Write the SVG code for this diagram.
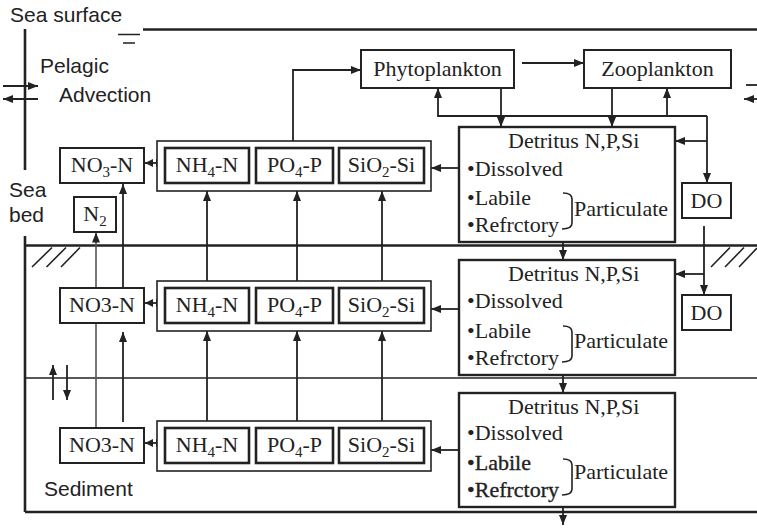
<svg xmlns="http://www.w3.org/2000/svg" width="757" height="528" viewBox="0 0 757 528">
<style>
.box{fill:#fff;stroke:#222;stroke-width:2}
.inner{fill:#fff;stroke:#222;stroke-width:2.6}
.outer{fill:#fff;stroke:#222;stroke-width:1.6}
.det{fill:#fff;stroke:#222;stroke-width:2.4}
.t{font-family:"Liberation Serif","Times New Roman",serif;font-size:22px;fill:#222}
.s{font-family:"Liberation Sans",Arial,sans-serif;font-size:21px;fill:#222}
.sub{font-size:15px}
.hv{stroke:#222;stroke-width:0.35}
.c{fill:none;stroke:#222;stroke-width:1.8}
.g{fill:none;stroke:#555;stroke-width:1.6}
.a{marker-end:url(#ah)}
.d{marker-start:url(#ah2);marker-end:url(#ah2)}
.frame{fill:none;stroke:#222;stroke-width:2.6}
.thin{fill:none;stroke:#222;stroke-width:1.6}
.br{fill:none;stroke:#222;stroke-width:1.6}
</style>
<defs>
<marker id="ah" viewBox="0 0 10 8" refX="10" refY="4" markerWidth="10" markerHeight="8" markerUnits="userSpaceOnUse" orient="auto"><path d="M0,0 L10,4 L0,8 z" fill="#222"/></marker>
<marker id="ah2" viewBox="0 0 8 8" refX="8" refY="4" markerWidth="8" markerHeight="8" markerUnits="userSpaceOnUse" orient="auto-start-reverse"><path d="M0,0 L8,4 L0,8 z" fill="#222"/></marker>
</defs>
<rect width="757" height="528" fill="#fff"/>

<g id="frame">
<path class="frame" d="M143,29.5 H757"/>
<path class="thin" d="M118,34.5 H140 M123,43 H135"/>
<path class="frame" d="M25,29 V170 M25,236 V512"/>
<path class="frame" d="M25,245.5 H757"/>
<path class="thin" d="M25,378 H757"/>
<path class="frame" d="M25,512 H757"/>
<path class="thin" d="M32,267 L52,247.5 M46.5,267 L66,247.5 M61,267 L80,247.5"/>
<path class="thin" d="M711,267 L730,247.5 M725,267 L744,247.5 M739,267 L757,248"/>
<text class="s" x="10" y="22">Sea surface</text>
<text class="s" x="40" y="72.5">Pelagic</text>
<text class="s" x="59" y="101.5">Advection</text>
<text class="s" x="9" y="197">Sea</text>
<text class="s" x="9" y="221.5">bed</text>
<text class="s" x="44" y="496">Sediment</text>
</g>

<g id="connectors">
<path class="c a" d="M3,86 H38"/>
<path class="c a" d="M38,99 H3"/>
<path class="c" d="M746,85 H757"/>
<path class="c a" d="M757,99 H744"/>
<path class="c a" d="M293,148 V70 H361"/>
<path class="c a" d="M522,63 H584"/>
<path class="c a" d="M501,88 V127"/>
<path class="c a" d="M612,88 V127"/>
<path class="c a" d="M707,116 H438 V88"/>
<path class="c a" d="M667,116 V88"/>
<path class="c a" d="M707,116 V183"/>
<path class="c a" d="M707,141 H675"/>
<path class="c a" d="M459,168 H431"/>
<path class="c d" d="M145,163 H164"/>
<path class="c a" d="M207,281 V191"/>
<path class="c a" d="M297,281 V191"/>
<path class="c a" d="M382,281 V191"/>
<path class="c a" d="M123,288 V184"/>
<path class="g a" d="M96,288 V232.5"/>
<path class="c a" d="M563,242 V260"/>
<path class="c a" d="M704,226 V295"/>
<path class="c a" d="M704,274 H675"/>
<path class="c a" d="M459,309 H431"/>
<path class="c d" d="M145,303 H164"/>
<path class="c a" d="M207,421 V331"/>
<path class="c a" d="M297,421 V331"/>
<path class="c a" d="M382,421 V331"/>
<path class="c a" d="M123,422 V332"/>
<path class="g" d="M96,428 V323"/>
<path class="c a" d="M563,375 V393"/>
<path class="c a" d="M459,450 H431"/>
<path class="c d" d="M145,443 H164"/>
<path class="c a" d="M563,507 V525"/>
<path class="c a" d="M53,400 V365"/>
<path class="c a" d="M67,365 V400"/>
</g>

<g id="phytoplankton">
<rect class="box" x="361" y="50" width="153" height="38"/>
<text class="t" x="437.5" y="76" text-anchor="middle">Phytoplankton</text>
</g>
<g id="zooplankton">
<rect class="box" x="584" y="50" width="147" height="38"/>
<text class="t" x="657.5" y="76" text-anchor="middle">Zooplankton</text>
</g>

<g id="nutrients-pelagic">
<rect class="outer" x="157" y="141" width="274" height="50"/>
<rect class="inner" x="165" y="148" width="84" height="35"/>
<rect class="inner" x="256" y="148" width="77" height="35"/>
<rect class="inner" x="339" y="148" width="85" height="35"/>
<text class="t" x="207" y="172" text-anchor="middle">NH<tspan class="sub" dy="5">4</tspan><tspan dy="-5">-N</tspan></text>
<text class="t" x="294.5" y="172" text-anchor="middle">PO<tspan class="sub" dy="5">4</tspan><tspan dy="-5">-P</tspan></text>
<text class="t" x="381.5" y="172" text-anchor="middle">SiO<tspan class="sub" dy="5">2</tspan><tspan dy="-5">-Si</tspan></text>
</g>
<g id="no3-pelagic">
<rect class="box" x="60" y="148" width="84" height="35"/>
<text class="t" x="102" y="172" text-anchor="middle">NO<tspan class="sub" dy="5">3</tspan><tspan dy="-5">-N</tspan></text>
</g>
<g id="n2">
<rect class="box" x="74" y="197" width="42" height="35"/>
<text class="t" x="95" y="221" text-anchor="middle">N<tspan class="sub" dy="5">2</tspan></text>
</g>
<g id="detritus-pelagic">
<rect class="det" x="459" y="127" width="216" height="115"/>
<text class="t" x="508" y="148">Detritus N,P,Si</text>
<text class="t" x="467" y="175.5">•Dissolved</text>
<text class="t" x="467" y="205">•Labile</text>
<text class="t" x="467" y="232">•Refrctory</text>
<text class="t" x="574" y="216">Particulate</text>
<path class="br" d="M563,193 Q572,193 572,199 V223 Q572,229 562,229"/>
</g>
<g id="do-pelagic">
<rect class="box" x="682" y="183" width="49" height="35"/>
<text class="t" x="706.5" y="207.5" text-anchor="middle">DO</text>
</g>

<g id="nutrients-sediment1">
<rect class="outer" x="157" y="281" width="274" height="50"/>
<rect class="inner" x="165" y="288" width="84" height="35"/>
<rect class="inner" x="256" y="288" width="77" height="35"/>
<rect class="inner" x="339" y="288" width="85" height="35"/>
<text class="t" x="207" y="312" text-anchor="middle">NH<tspan class="sub" dy="5">4</tspan><tspan dy="-5">-N</tspan></text>
<text class="t" x="294.5" y="312" text-anchor="middle">PO<tspan class="sub" dy="5">4</tspan><tspan dy="-5">-P</tspan></text>
<text class="t" x="381.5" y="312" text-anchor="middle">SiO<tspan class="sub" dy="5">2</tspan><tspan dy="-5">-Si</tspan></text>
</g>
<g id="no3-sediment1">
<rect class="box" x="60" y="288" width="84" height="35"/>
<text class="t" x="102" y="312" text-anchor="middle">NO3-N</text>
</g>
<g id="detritus-sediment1">
<rect class="det" x="459" y="260" width="216" height="115"/>
<text class="t" x="508" y="280.5">Detritus N,P,Si</text>
<text class="t" x="467" y="308">•Dissolved</text>
<text class="t" x="467" y="337.5">•Labile</text>
<text class="t" x="467" y="364.5">•Refrctory</text>
<text class="t" x="574" y="348">Particulate</text>
<path class="br" d="M563,326 Q572,326 572,332 V356 Q572,362 562,362"/>
</g>
<g id="do-sediment1">
<rect class="box" x="682" y="295" width="49" height="35"/>
<text class="t" x="706.5" y="320" text-anchor="middle">DO</text>
</g>

<g id="nutrients-sediment2">
<rect class="outer" x="157" y="421" width="274" height="50"/>
<rect class="inner" x="165" y="428" width="84" height="35"/>
<rect class="inner" x="256" y="428" width="77" height="35"/>
<rect class="inner" x="339" y="428" width="85" height="35"/>
<text class="t" x="207" y="452" text-anchor="middle">NH<tspan class="sub" dy="5">4</tspan><tspan dy="-5">-N</tspan></text>
<text class="t" x="294.5" y="452" text-anchor="middle">PO<tspan class="sub" dy="5">4</tspan><tspan dy="-5">-P</tspan></text>
<text class="t" x="381.5" y="452" text-anchor="middle">SiO<tspan class="sub" dy="5">2</tspan><tspan dy="-5">-Si</tspan></text>
</g>
<g id="no3-sediment2">
<rect class="box" x="60" y="428" width="84" height="35"/>
<text class="t" x="102" y="452" text-anchor="middle">NO3-N</text>
</g>
<g id="detritus-sediment2">
<rect class="det" x="459" y="393" width="216" height="114"/>
<text class="t" x="508" y="413.5">Detritus N,P,Si</text>
<text class="t" x="467" y="440">•Dissolved</text>
<text class="t hv" x="467" y="470">•Labile</text>
<text class="t hv" x="467" y="497">•Refrctory</text>
<text class="t" x="574" y="479">Particulate</text>
<path class="br" d="M563,459 Q572,459 572,465 V489 Q572,495 562,495"/>
</g>
</svg>
